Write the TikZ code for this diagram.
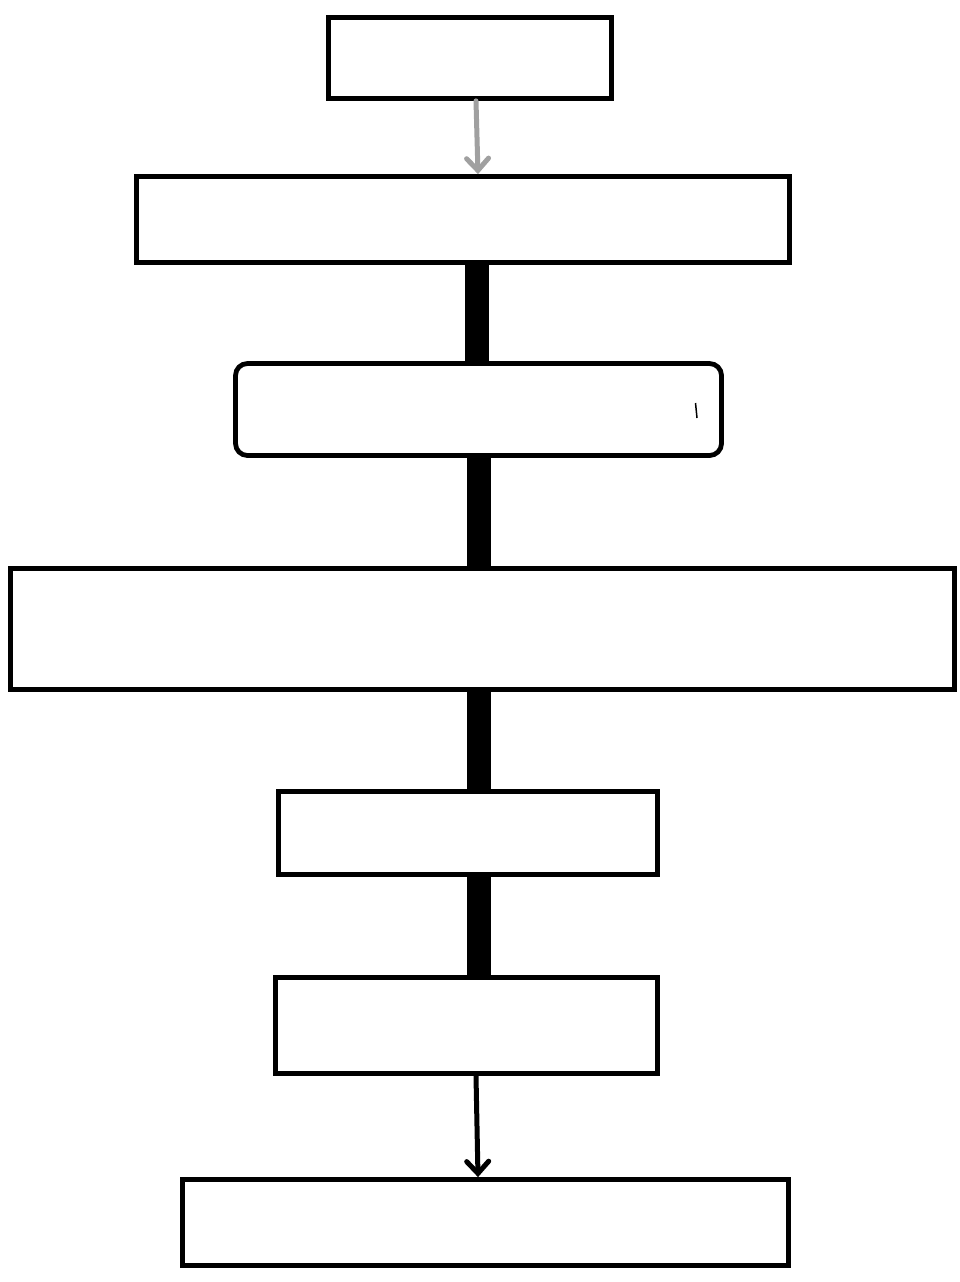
\documentclass[tikz,border=0pt]{standalone}
\usetikzlibrary{arrows.meta}
\definecolor{Gline}{RGB}{160,160,160}

\begin{document}
\begin{tikzpicture}[x=1pt,y=-1pt,line join=miter,
  box/.style={rectangle,draw,line width=4.8pt,fill=white,inner sep=0pt},
  rbox/.style={box,rounded corners=12pt},
  bar/.style={line width=24pt,line cap=butt},
  thinarrow/.style={line width=5pt,line cap=round,-{Straight Barb[length=12pt,width=22pt,line cap=round,line width=5pt]}}]
\path[use as bounding box] (0,0) rectangle (960,1282);
\node[box,minimum width=283pt,minimum height=81pt] (b1) at (470,58) {};
\node[box,minimum width=653pt,minimum height=86pt] (b2) at (463,219.5) {};
\node[rbox,minimum width=486pt,minimum height=92pt] (b3) at (478.5,409.5) {};
\node[box,minimum width=944pt,minimum height=121pt] (b4) at (482.5,629) {};
\node[box,minimum width=379pt,minimum height=83pt] (b5) at (468,833) {};
\node[box,minimum width=382pt,minimum height=96pt] (b6) at (466.5,1025.5) {};
\node[box,minimum width=606pt,minimum height=86pt] (b7) at (485.5,1222.5) {};
\coordinate (ax) at (478,0);
\coordinate (gtop) at (476,0);
\coordinate (ktop) at (476,0);
\draw[thinarrow,draw=Gline] (b1.south -| gtop) -- (b2.north -| ax);
\draw[bar] (b2.south -| 477,0) -- (b3.north -| 477,0);
\draw[bar] (b3.south -| 479,0) -- (b4.north -| 479,0);
\draw[bar] (b4.south -| 479,0) -- (b5.north -| 479,0);
\draw[bar] (b5.south -| 479,0) -- (b6.north -| 479,0);
\draw[thinarrow] (b6.south -| ktop) -- (b7.north -| ax);
\draw[line width=1.5pt] (695.5,403) -- (697,418);
\end{tikzpicture}
\end{document}
